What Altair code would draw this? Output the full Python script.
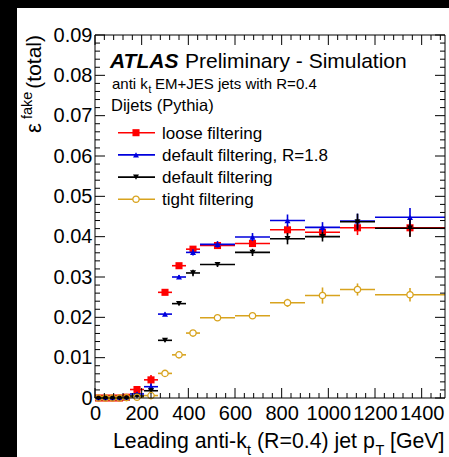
import altair as alt
import numpy as np
import pandas as pd

# Leading-jet pT bins [GeV]
bin_lo = [0, 30, 60, 90, 120, 150, 210, 270, 330, 390, 450, 600, 750, 900, 1050, 1200]
bin_hi = [30, 60, 90, 120, 150, 210, 270, 330, 390, 450, 600, 750, 900, 1050, 1200, 1500]

series_names = ["loose filtering", "default filtering, R=1.8", "default filtering", "tight filtering"]
series_colors = ["#ff0000", "#0000dd", "#000000", "#d8a31e"]
series_shapes = ["square", "triangle-up", "triangle-down", "circle"]
series_sizes = [50, 36, 36, 40]

# Fake rate per bin and its statistical uncertainty
loose_eff = [0, 0, 0, 0, 0.0002, 0.0021, 0.0045, 0.0262, 0.0328, 0.0369, 0.0378, 0.0383, 0.0417, 0.0411, 0.0422, 0.0422]
loose_err = [0, 0, 0, 0, 0.0001, 0.0003, 0.0012, 0.0004, 0.0005, 0.0007, 0.0006, 0.0007, 0.0012, 0.0012, 0.0018, 0.0020]

r18_eff = [0, 0, 0, 0, 0.0001, 0.0010, 0.0028, 0.0208, 0.0300, 0.0361, 0.0381, 0.0399, 0.0440, 0.0423, 0.0439, 0.0448]
r18_err = [0, 0, 0, 0, 0.0001, 0.0003, 0.0008, 0.0004, 0.0005, 0.0008, 0.0008, 0.0010, 0.0015, 0.0013, 0.0018, 0.0023]

default_eff = [0, 0, 0, 0, 0, 0.0005, 0.0018, 0.0143, 0.0234, 0.0310, 0.0331, 0.0361, 0.0395, 0.0400, 0.0437, 0.0421]
default_err = [0, 0, 0, 0, 0, 0.0002, 0.0006, 0.0003, 0.0004, 0.0008, 0.0006, 0.0009, 0.0014, 0.0012, 0.0020, 0.0022]

tight_eff = [0, 0, 0, 0, 0.0001, 0.0002, 0.0006, 0.0061, 0.0107, 0.0161, 0.0199, 0.0204, 0.0236, 0.0254, 0.0269, 0.0256]
tight_err = [0, 0, 0, 0, 0.0001, 0.0001, 0.0004, 0.0004, 0.0004, 0.0005, 0.0006, 0.0007, 0.0010, 0.0020, 0.0015, 0.0017]

series_eff = [loose_eff, r18_eff, default_eff, tight_eff]
series_err = [loose_err, r18_err, default_err, tight_err]

x_major = [0, 200, 400, 600, 800, 1000, 1200, 1400]
y_major = [0, 0.01, 0.02, 0.03, 0.04, 0.05, 0.06, 0.07, 0.08, 0.09]

W, H = 350, 363
PAD = {"left": 95, "top": 35, "right": 4, "bottom": 59}
FONT = "Liberation Sans"

x_scale = alt.Scale(domain=[0, 1500], nice=False, zero=False)
y_scale = alt.Scale(domain=[0, 0.09], nice=False, zero=False)
axis_common = dict(title=None, grid=False, ticks=False, tickSize=0, domain=False,
                   labelFont=FONT, labelFontSize=20, labelColor="black",
                   labelOverlap=False, labelFlush=False, labelBound=False, zindex=1)
x_axis = alt.Axis(values=x_major, format="d", labelPadding=5, **axis_common)
y_axis = alt.Axis(values=y_major, labelExpr="datum.value == 0 ? '0' : format(datum.value, '.2f')",
                  labelPadding=3, **axis_common)


def X(field):
    return alt.X(field, type="quantitative", scale=x_scale, axis=x_axis)


def Y(field):
    return alt.Y(field, type="quantitative", scale=y_scale, axis=y_axis)


one = pd.DataFrame({"k": [0]})
centers = [(a + b) / 2 for a, b in zip(bin_lo, bin_hi)]


def series_frame(i):
    eff = np.array(series_eff[i])
    err = np.array(series_err[i])
    return pd.DataFrame({"lo": bin_lo, "hi": bin_hi, "pt": centers, "eff": eff,
                         "low": eff - err, "high": eff + err})


def bars(i):
    df = series_frame(i)
    c = series_colors[i]
    h = alt.Chart(df).mark_rule(color=c, strokeWidth=1.6).encode(x=X("lo"), x2="hi", y=Y("eff"))
    v = alt.Chart(df).mark_rule(color=c, strokeWidth=1.6).encode(x=X("pt"), y=Y("low"), y2="high")
    return [h, v]


def markers(i, fill=True):
    df = series_frame(i)
    c = series_colors[i]
    if fill:
        m = alt.Chart(df).mark_point(shape=series_shapes[i], size=series_sizes[i], filled=True,
                                     color=c, opacity=1)
    else:
        m = alt.Chart(df).mark_point(shape=series_shapes[i], size=series_sizes[i], filled=False,
                                     color=c, strokeWidth=1.3, opacity=1)
    return m.encode(x=X("pt"), y=Y("eff"))


def text(t, x, y, size, align="left", **kw):
    return alt.Chart(one).mark_text(text=t, font=FONT, fontSize=size, color="black",
                                    align=align, baseline="alphabetic", **kw).encode(
        x=alt.value(x), y=alt.value(y))


x0, x1 = -PAD["left"], W + PAD["right"]
y0, y1 = -PAD["top"], H + PAD["bottom"]
layers = [
    # white page
    alt.Chart(one).mark_rect(color="white").encode(
        x=alt.value(x0 + 17), x2=alt.value(x1), y=alt.value(y0 + 8), y2=alt.value(y1)),
    # dark border along the top and left edges of the page
    alt.Chart(one).mark_rect(color="black").encode(
        x=alt.value(x0), x2=alt.value(x0 + 17), y=alt.value(y0), y2=alt.value(y1)),
    alt.Chart(one).mark_rect(color="black").encode(
        x=alt.value(x0), x2=alt.value(x1), y=alt.value(y0), y2=alt.value(y0 + 8)),
]

# tight filtering: bars first, then white disks so the open circles look hollow
layers += bars(3)
tight_df = series_frame(3)
layers.append(alt.Chart(tight_df).mark_point(shape="circle", size=series_sizes[3], filled=True,
                                             color="white", opacity=1).encode(x=X("pt"), y=Y("eff")))
for i in range(3):
    layers += bars(i)
    layers.append(markers(i))
layers.append(markers(3, fill=False))

# frame with inward ticks on all four sides
layers.append(alt.Chart(one).mark_rect(fillOpacity=0, stroke="black", strokeWidth=1).encode(
    x=alt.value(0), x2=alt.value(W), y=alt.value(0), y2=alt.value(H)))

x_minor = [v for v in range(0, 1500, 40) if v % 200 != 0]
y_minor = [round(v, 4) for v in np.arange(0, 0.0901, 0.002) if round(v * 1000) % 10 != 0]
xt_major = pd.DataFrame({"v": x_major})
xt_minor = pd.DataFrame({"v": x_minor})
yt_major = pd.DataFrame({"v": y_major})
yt_minor = pd.DataFrame({"v": y_minor})

for df, ln in [(xt_major, 10), (xt_minor, 5)]:
    layers.append(alt.Chart(df).mark_rule(color="black", strokeWidth=1).encode(
        x=X("v"), y=alt.value(H - ln), y2=alt.value(H)))
    layers.append(alt.Chart(df).mark_rule(color="black", strokeWidth=1).encode(
        x=X("v"), y=alt.value(0), y2=alt.value(ln)))
for df, ln in [(yt_major, 10), (yt_minor, 5)]:
    layers.append(alt.Chart(df).mark_rule(color="black", strokeWidth=1).encode(
        y=Y("v"), x=alt.value(0), x2=alt.value(ln)))
    layers.append(alt.Chart(df).mark_rule(color="black", strokeWidth=1).encode(
        y=Y("v"), x=alt.value(W - ln), x2=alt.value(W)))

# legend
leg_top, leg_step = 97.7, 22.2
for i, name in enumerate(series_names):
    ry = leg_top + i * leg_step
    c = series_colors[i]
    layers.append(alt.Chart(one).mark_rule(color=c, strokeWidth=1.6).encode(
        x=alt.value(23), x2=alt.value(60), y=alt.value(ry)))
    if series_shapes[i] == "circle":
        layers.append(alt.Chart(one).mark_point(shape="circle", size=series_sizes[i], filled=True,
                                                color="white", opacity=1).encode(
            x=alt.value(41), y=alt.value(ry)))
        layers.append(alt.Chart(one).mark_point(shape="circle", size=series_sizes[i], filled=False,
                                                color=c, strokeWidth=1.3, opacity=1).encode(
            x=alt.value(41), y=alt.value(ry)))
    else:
        layers.append(alt.Chart(one).mark_point(shape=series_shapes[i], size=series_sizes[i],
                                                filled=True, color=c, opacity=1).encode(
            x=alt.value(41), y=alt.value(ry)))
    layers.append(text(name, 67, ry + 6, 17))

# header text
layers.append(text("ATLAS", 15, 33, 21, fontWeight="bold", fontStyle="italic"))
layers.append(text("Preliminary - Simulation", 90, 33, 21))
layers.append(text("anti k", 17, 54, 15))
layers.append(text("t", 53.5, 58, 10))
layers.append(text("EM+JES jets with R=0.4", 60, 54, 15))
layers.append(text("Dijets (Pythia)", 16, 76, 16.5))

# x-axis title with subscripts
layers.append(text("Leading anti-k", 18, 413, 21.3))
layers.append(text("t", 152, 420, 14.5))
layers.append(text("(R=0.4) jet p", 162, 413, 21.3))
layers.append(text("T", 280.5, 420, 14.5))
layers.append(text("[GeV]", 295, 413, 21.3))

# y-axis title, rotated
layers.append(text("\u03b5", -54, 98, 22, angle=270))
layers.append(text("fake", -63, 84, 14.5, angle=270))
layers.append(text("(total)", -54, 0, 21, align="right", angle=270))

chart = alt.layer(*layers).properties(
    width=W, height=H, background="white", padding=PAD,
    autosize=alt.AutoSizeParams(type="none"),
).configure_view(stroke="transparent")

chart.save("out.html", embed_options={"renderer": "svg", "actions": False})
